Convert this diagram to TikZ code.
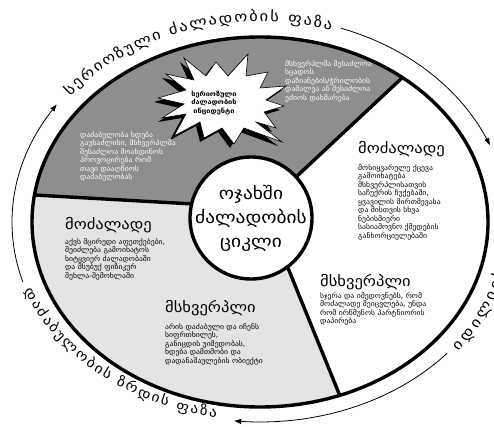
\documentclass[tikz,border=0pt]{standalone}
\usepackage{fontspec}
\setmainfont{DejaVu Sans}
\newfontfamily\bodyfnt[FakeStretch=1.1]{DejaVu Sans}
\newfontfamily\widefnt[FakeStretch=1.14]{DejaVu Sans}
\usetikzlibrary{decorations.text, arrows.meta}
\definecolor{darkg}{HTML}{8E8E8E}
\definecolor{lightg}{HTML}{E4E4E4}
\newcommand\arcfnt{\widefnt\fontsize{14.5}{14.5}\selectfont}
\newcommand\arcfntb{\widefnt\fontsize{13.5}{13.5}\selectfont}
\begin{document}
\begin{tikzpicture}[x=1pt,y=-1pt,
  outline/.style={line width=3.4pt},
  divider/.style={line width=3.4pt},
  thinarc/.style={line width=0.8pt,-{Triangle[length=7pt,width=5pt]}},
  body/.style={font=\bodyfnt\fontsize{7}{8.5}\selectfont, align=left, anchor=north west, inner sep=0pt},
  head/.style={font=\widefnt\fontsize{14.5}{18}\selectfont, anchor=north west, inner sep=0pt},
  arctext/.style={decorate, decoration={text along path, text align=fit to path, raise=-4.5pt}}]
\useasboundingbox (0,0) rectangle (494,427);
\fill[white] (0,0) rectangle (494,427);
% sector boundary points
\coordinate (d1i) at (296,177);
\coordinate (d1o) at (403,77);
\coordinate (d2i) at (288,268);
\coordinate (d2o) at (340,396);
\coordinate (d3i) at (193,204);
\coordinate (d3o) at (34,195);
\begin{scope}
  \clip (260,222) ellipse [x radius=228, y radius=185];
  \fill[lightg] (0,0) rectangle (494,427);
  \fill[darkg] (d3i) -- (-50,190) -- (-50,-50) -- (539,-50) -- (d1i) -- (251,218) -- cycle;
  \fill[white] (d1i) -- (539,-50) -- (700,-50) -- (700,600) -- (423,600) -- (d2i) -- (251,218) -- cycle;
\end{scope}
\draw[divider] (d1i) -- (d1o);
\draw[divider] (d2i) -- (d2o);
\draw[divider] (d3i) -- (d3o);
\draw[outline] (260,222) ellipse [x radius=228, y radius=185];
% hub
\node[circle, draw, line width=3.4pt, fill=white, minimum size=122pt, inner sep=0pt] (hub) at (251,218) {};
\node[font=\widefnt\fontsize{17}{24}\selectfont, align=center] (title) at (hub.center) {ოჯახში\\ძალადობის\\ციკლი};
% star burst
\begin{scope}[shift={(224,100)}]
  \fill[black, shift={(-4,4)}] (-66,-2) -- (-38,-10) -- (-58,-26) -- (-30,-20) -- (-40,-42) -- (-18,-24) -- (-8,-38) -- (4,-24) -- (24,-46) -- (22,-24) -- (44,-28) -- (36,-12) -- (62,-14) -- (42,0) -- (60,6) -- (40,12) -- (52,28) -- (32,22) -- (58,42) -- (20,28) -- (10,44) -- (-2,28) -- (-20,38) -- (-24,22) -- (-50,36) -- (-38,14) -- (-62,18) -- (-40,4) -- cycle;
  \draw[fill=white, line width=0.6pt] (-66,-2) -- (-38,-10) -- (-58,-26) -- (-30,-20) -- (-40,-42) -- (-18,-24) -- (-8,-38) -- (4,-24) -- (24,-46) -- (22,-24) -- (44,-28) -- (36,-12) -- (62,-14) -- (42,0) -- (60,6) -- (40,12) -- (52,28) -- (32,22) -- (58,42) -- (20,28) -- (10,44) -- (-2,28) -- (-20,38) -- (-24,22) -- (-50,36) -- (-38,14) -- (-62,18) -- (-40,4) -- cycle;
\end{scope}
\node[font=\widefnt\bfseries\fontsize{6.5}{8.5}\selectfont, align=center] (star) at (214,103) {სერიოზული\\ძალადობის\\ინციდენტი};
% sector texts
\node[body, text=white] (tr) at (285,60) {მსხვერპლმა შესაძლოა\\სცადოს\\დაზიანების/ჭრილობის\\დამალვა ან შესაძლოა\\ეძიოს დახმარება};
\node[body, text=white] (tl) at (80,131) {დაძაბულობა ხდება\\გაუსაძლისი, მსხვერპლმა\\შესაძლოა მოახდინოს\\პროვოცირება რომ\\თავი დააღწიოს\\დაძაბულობას};
\node[head] (rh) at (358,141) {მოძალადე};
\node[body] (rb) at (358,164) {მოსიყვარულე ქცევა\\გამოიხატება\\მსხვერპლისათვის\\საჩუქრის ჩუქებაში,\\ყვავილის მირთმევასა\\და მისთვის სხვა\\ნებისმიერი\\სასიამოვნო ქმედების\\განხორციელებაში};
\node[head] (rvh) at (320,274) {მსხვერპლი};
\node[body] (rvb) at (320,292) {სჯერა და იმედოვნებს, რომ\\მოძალადე შეიცვლება, უნდა\\რომ ირწმუნოს პარტნიორის\\დაპირება};
\node[head] (lh) at (65,217) {მოძალადე};
\node[body] (lb) at (65,238) {აქვს მცირედი აფეთქებები,\\შეიძლება გამოიხატოს\\სიტყვიერ ძალადობაში\\და მსუბუქ ფიზიკურ\\შეხლა-შემოხლაში};
\node[head] (bh) at (165,300) {მსხვერპლი};
\node[body] (bb) at (165,323) {არის დაძაბული და იჩენს\\სიფრთხილეს,\\განიცდის უიმედობას,\\ხდება დამთმობი და\\დადანაშაულების ობიექტი};
% phase labels along the outer ring
\path[arctext, decoration={text={|\arcfnt|სერიოზული ძალადობის ფაზა}}]
  plot[domain=0:1, samples=80] ({260+248*cos(141-68*\x)}, {222-205*sin(141-68*\x)});
\path[arctext, decoration={text={|\arcfntb|დაძაბულობის ზრდის ფაზა}}]
  plot[domain=0:1, samples=80] ({260+246*cos(200+60*\x)}, {222-194*sin(200+60*\x)});
\path[arctext, decoration={text={|\arcfnt|იდილიის ფაზა}}]
  plot[domain=0:1, samples=60] ({260+248*cos(-38+41*\x)}, {222-205*sin(-38+41*\x)});
% thin arrows
\draw[thinarc] plot[domain=0:1, samples=60] ({260+248*cos(197-52*\x)}, {222-205*sin(197-52*\x)});
\draw[thinarc] plot[domain=0:1, samples=60] ({260+248*cos(71-49*\x)}, {222-205*sin(71-49*\x)});
\draw[thinarc] plot[domain=0:1, samples=60] ({260+248*cos(-41-55*\x)}, {222-200*sin(-41-55*\x)});
\end{tikzpicture}
\end{document}
